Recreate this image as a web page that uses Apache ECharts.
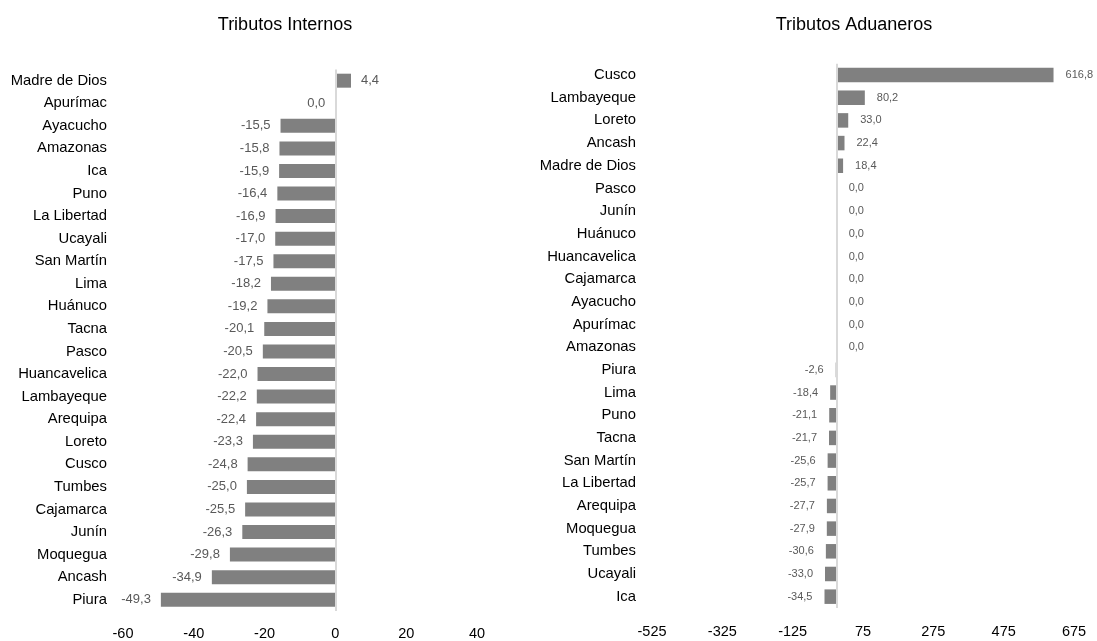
<!DOCTYPE html>
<html>
<head>
<meta charset="utf-8">
<script src="https://cdn.jsdelivr.net/npm/echarts@6/dist/echarts.min.js"></script>
<style>
html,body{margin:0;padding:0;background:#fff;}
#chart{width:1097px;height:641px;}
</style>
</head>
<body>
<div id="chart"></div>
<script>
const leftTitle = 'Tributos Internos';
const rightTitle = 'Tributos Aduaneros';
const leftCategories = ['Madre de Dios','Apurímac','Ayacucho','Amazonas','Ica','Puno','La Libertad','Ucayali','San Martín','Lima','Huánuco','Tacna','Pasco','Huancavelica','Lambayeque','Arequipa','Loreto','Cusco','Tumbes','Cajamarca','Junín','Moquegua','Ancash','Piura'];
const leftValues = [4.4,-0.04,-15.5,-15.8,-15.9,-16.4,-16.9,-17.0,-17.5,-18.2,-19.2,-20.1,-20.5,-22.0,-22.2,-22.4,-23.3,-24.8,-25.0,-25.5,-26.3,-29.8,-34.9,-49.3];
const rightCategories = ['Cusco','Lambayeque','Loreto','Ancash','Madre de Dios','Pasco','Junín','Huánuco','Huancavelica','Cajamarca','Ayacucho','Apurímac','Amazonas','Piura','Lima','Puno','Tacna','San Martín','La Libertad','Arequipa','Moquegua','Tumbes','Ucayali','Ica'];
const rightValues = [616.8,80.2,33.0,22.4,18.4,0,0,0,0,0,0,0,0,-2.6,-18.4,-21.1,-21.7,-25.6,-25.7,-27.7,-27.9,-30.6,-33.0,-34.5];
const leftTicks = [-60,-40,-20,0,20,40];
const rightTicks = [-525,-325,-125,75,275,475,675];

const FONT = "'Liberation Sans',Arial,sans-serif";
const fmt = v => { let s = v.toFixed(1).replace('.', ','); if (s === '-0,0') s = '0,0'; return s; };

function barData(values, dist) {
  return values.map(v => ({
    value: v,
    label: { position: v < 0 ? 'left' : 'right', distance: dist }
  }));
}

const chart = echarts.init(document.getElementById('chart'));
chart.setOption({
  animation: false,
  backgroundColor: '#fff',
  title: [
    { text: leftTitle, left: 280, top: 11, textAlign: 'center',
      textStyle: { fontFamily: FONT, fontSize: 18, fontWeight: 'normal', color: '#000' } },
    { text: rightTitle, left: 849, top: 11, textAlign: 'center',
      textStyle: { fontFamily: FONT, fontSize: 18, fontWeight: 'normal', color: '#000' } }
  ],
  grid: [
    { left: 123, width: 354, top: 69.4, height: 542 },
    { left: 652, width: 422, top: 63.7, height: 544.3 }
  ],
  xAxis: [
    { gridIndex: 0, type: 'value', min: leftTicks[0], max: leftTicks[leftTicks.length-1], interval: 20,
      axisLine: { show: false }, axisTick: { show: false }, splitLine: { show: false },
      axisLabel: { margin: 15, fontFamily: FONT, fontSize: 14.5, color: '#000' } },
    { gridIndex: 1, type: 'value', min: rightTicks[0], max: rightTicks[rightTicks.length-1],
      axisLine: { show: false }, axisTick: { show: false }, splitLine: { show: false },
      axisLabel: { margin: 16, fontFamily: FONT, fontSize: 14.5, color: '#000', customValues: rightTicks, showMinLabel: true, showMaxLabel: true } }
  ],
  yAxis: [
    { gridIndex: 0, type: 'category', data: leftCategories, inverse: true,
      axisLine: { show: false }, axisTick: { show: false },
      axisLabel: { margin: 16, fontFamily: FONT, fontSize: 14.8, color: '#000' } },
    { gridIndex: 1, type: 'category', data: rightCategories, inverse: true,
      axisLine: { show: false }, axisTick: { show: false },
      axisLabel: { margin: 16, fontFamily: FONT, fontSize: 14.8, color: '#000' } }
  ],
  series: [
    { type: 'bar', xAxisIndex: 0, yAxisIndex: 0, data: barData(leftValues, 10),
      barCategoryGap: '38%', itemStyle: { color: '#808080' },
      label: { show: true, fontFamily: FONT, fontSize: 13, color: '#595959', formatter: p => fmt(p.value) },
      markLine: { silent: true, symbol: 'none', label: { show: false },
        lineStyle: { color: '#d9d9d9', width: 2, type: 'solid' }, data: [{ xAxis: 0 }] } },
    { type: 'bar', xAxisIndex: 1, yAxisIndex: 1, data: barData(rightValues, 12),
      barCategoryGap: '36%', itemStyle: { color: '#808080' },
      label: { show: true, fontFamily: FONT, fontSize: 11, color: '#595959', formatter: p => fmt(p.value) },
      markLine: { silent: true, symbol: 'none', label: { show: false },
        lineStyle: { color: '#d9d9d9', width: 2, type: 'solid' }, data: [{ xAxis: 0 }] } }
  ]
});
</script>
</body>
</html>
